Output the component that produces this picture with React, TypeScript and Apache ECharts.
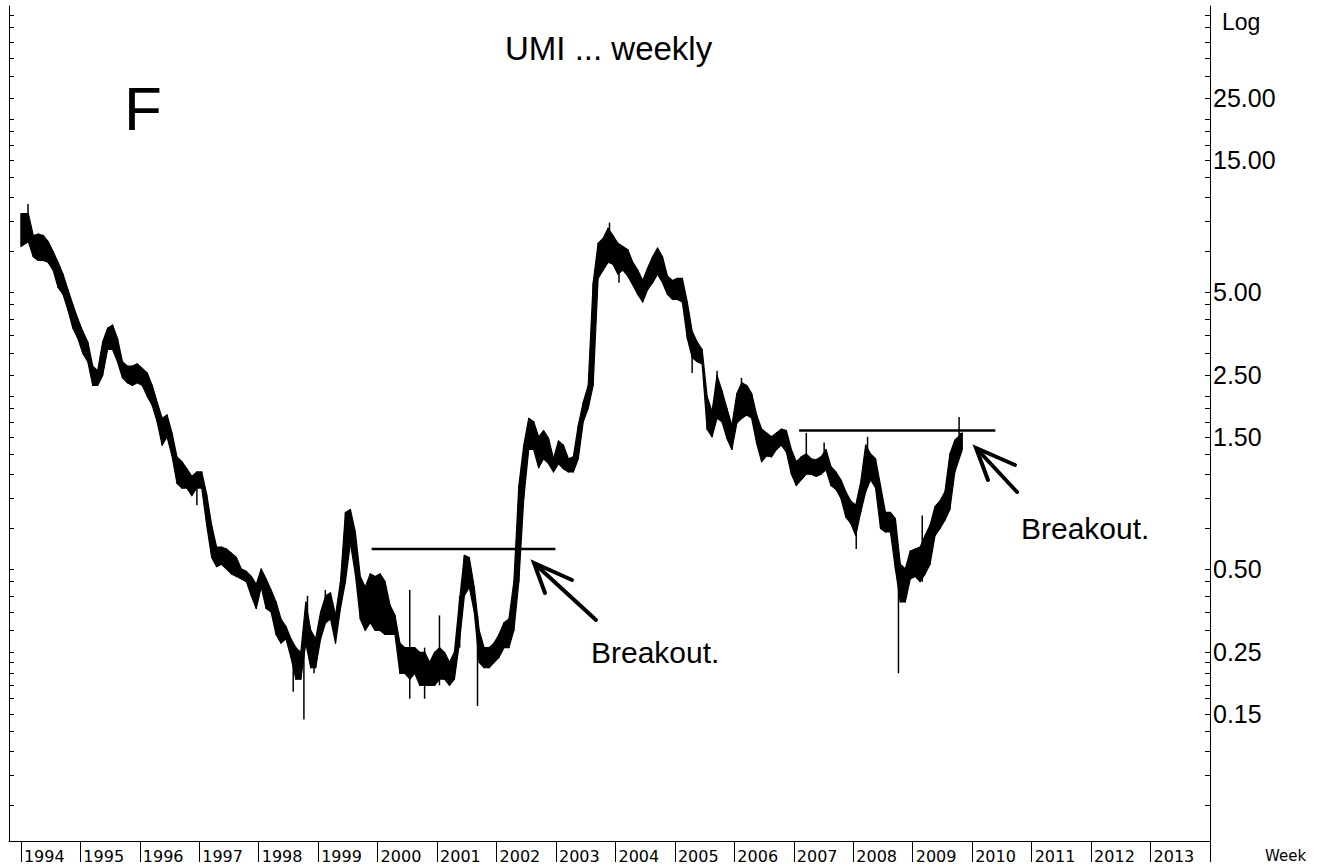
import React, { useEffect, useRef } from 'react';
import * as echarts from 'echarts';

// ---------- data ----------
const START_YEAR = 1994;
const MONTH = 1 / 12;

// monthly high / low of the weekly bars, Jan 1994 .. Oct 2009
const monthlyHigh = [
  // 1994
  9.6, 9.6, 8.0, 8.1, 8.0, 7.6, 7.0, 6.4, 5.8, 5.1, 4.5, 4.0,
  // 1995
  3.6, 3.3, 2.7, 2.6, 3.3, 3.7, 3.8, 3.4, 2.8, 2.7, 2.7, 2.75,
  // 1996
  2.65, 2.55, 2.3, 2.0, 1.75, 1.8, 1.55, 1.27, 1.22, 1.15, 1.08, 1.12,
  // 1997
  1.12, 0.93, 0.72, 0.6, 0.6, 0.59, 0.57, 0.55, 0.5, 0.49, 0.47, 0.44,
  // 1998
  0.5, 0.46, 0.42, 0.38, 0.33, 0.31, 0.28, 0.26, 0.25, 0.38, 0.3, 0.28,
  // 1999
  0.35, 0.4, 0.41, 0.34, 0.45, 0.8, 0.82, 0.68, 0.47, 0.43, 0.48, 0.47,
  // 2000
  0.48, 0.45, 0.37, 0.34, 0.27, 0.26, 0.26, 0.26, 0.25, 0.25, 0.23, 0.25,
  // 2001
  0.26, 0.25, 0.23, 0.25, 0.38, 0.56, 0.55, 0.43, 0.3, 0.26, 0.26, 0.27,
  // 2002
  0.29, 0.32, 0.33, 0.45, 1.0, 1.4, 1.75, 1.7, 1.5, 1.58, 1.48, 1.25,
  // 2003
  1.45, 1.4, 1.25, 1.27, 1.65, 2.0, 2.3, 5.4, 7.5, 7.8, 8.5, 8.0,
  // 2004
  7.5, 7.3, 7.1, 6.4, 6.0, 5.5, 6.1, 6.7, 7.2, 6.7, 5.7, 5.5,
  // 2005
  5.6, 5.6, 4.6, 3.6, 3.3, 3.1, 2.1, 1.85, 2.5, 2.2, 1.9, 1.65,
  // 2006
  2.15, 2.35, 2.3, 2.15, 1.8, 1.6, 1.55, 1.5, 1.55, 1.6, 1.58, 1.35,
  // 2007
  1.22, 1.27, 1.3, 1.25, 1.24, 1.27, 1.35, 1.17, 1.12, 1.05, 0.95, 0.88,
  // 2008
  0.85, 1.03, 1.4, 1.3, 1.25, 1.0, 0.8, 0.8, 0.76, 0.52, 0.5, 0.58,
  // 2009
  0.59, 0.6, 0.66, 0.72, 0.84, 0.88, 0.95, 1.3, 1.46, 1.55,
];

const monthlyLow = [
  // 1994
  7.3, 7.6, 6.7, 6.5, 6.5, 6.4, 6.0, 5.2, 4.9, 4.3, 3.7, 3.4,
  // 1995
  3.0, 2.8, 2.3, 2.3, 2.5, 3.1, 3.1, 2.8, 2.45, 2.35, 2.3, 2.35,
  // 1996
  2.3, 2.1, 1.95, 1.7, 1.4, 1.5, 1.28, 1.02, 0.98, 0.98, 0.92, 0.98,
  // 1997
  0.98, 0.72, 0.55, 0.51, 0.52, 0.5, 0.48, 0.47, 0.46, 0.45, 0.4, 0.36,
  // 1998
  0.43, 0.36, 0.35, 0.29, 0.27, 0.28, 0.24, 0.2, 0.2, 0.27, 0.22, 0.22,
  // 1999
  0.28, 0.32, 0.33, 0.27, 0.36, 0.45, 0.62, 0.48, 0.33, 0.3, 0.32, 0.3,
  // 2000
  0.3, 0.29, 0.29, 0.29, 0.21, 0.21, 0.2, 0.21, 0.19, 0.19, 0.19, 0.19,
  // 2001
  0.2, 0.2, 0.19, 0.2, 0.27, 0.4, 0.43, 0.35, 0.23, 0.22, 0.22, 0.23,
  // 2002
  0.24, 0.26, 0.26, 0.3, 0.45, 0.9, 1.35, 1.35, 1.16, 1.25, 1.2, 1.12,
  // 2003
  1.2, 1.15, 1.12, 1.12, 1.25, 1.7, 1.9, 2.3, 5.6, 6.0, 6.4, 6.3,
  // 2004
  5.8, 6.0, 5.7, 5.3, 4.9, 4.6, 5.1, 5.4, 5.8, 5.4, 4.9, 4.7,
  // 2005
  4.7, 4.6, 3.4, 2.9, 2.8, 2.75, 1.6, 1.5, 1.75, 1.7, 1.48, 1.35,
  // 2006
  1.68, 1.75, 1.8, 1.75, 1.42, 1.22, 1.28, 1.27, 1.35, 1.4, 1.32, 1.1,
  // 2007
  1.0, 1.05, 1.1, 1.1, 1.08, 1.1, 1.14, 1.0, 0.97, 0.9, 0.77, 0.73,
  // 2008
  0.66, 0.8, 0.95, 1.05, 0.98, 0.7, 0.68, 0.68, 0.5, 0.38, 0.38, 0.46,
  // 2009
  0.47, 0.45, 0.48, 0.52, 0.66, 0.7, 0.75, 0.82, 1.12, 1.35,
];

// single-week spikes (time in years, high, low)
const spikeTime = [
  1994.12, 1996.96, 1998.58, 1998.76, 1998.82, 1998.93, 1999.12, 2000.54, 2000.79,
  2001.04, 2001.38, 2001.68, 2003.9, 2004.06, 2005.29, 2005.71, 2006.12, 2007.21,
  2007.51, 2008.05, 2008.24, 2008.76, 2009.16, 2009.78,
];
const spikeHigh = [
  10.4, 1.0, 0.26, 0.25, 0.4, 0.26, 0.42, 0.42, 0.26,
  0.34, 0.4, 0.34, 8.9, 6.0, 3.3, 2.6, 2.45, 1.55,
  1.43, 0.75, 1.5, 0.5, 0.78, 1.77,
];
const spikeLow = [
  8.5, 0.85, 0.18, 0.143, 0.33, 0.21, 0.32, 0.17, 0.17,
  0.19, 0.26, 0.16, 7.5, 5.4, 2.55, 2.0, 2.0, 1.2,
  1.15, 0.59, 1.1, 0.21, 0.45, 1.45,
];

// breakout (resistance) lines: [start year, end year, price]
const breakout1 = [1999.9, 2002.99, 0.59];
const breakout2 = [2007.09, 2010.39, 1.58];

// axes
const yearTicks = [
  1994, 1995, 1996, 1997, 1998, 1999, 2000, 2001, 2002, 2003, 2004,
  2005, 2006, 2007, 2008, 2009, 2010, 2011, 2012, 2013, 2014,
];
const yearLabels = yearTicks.slice(0, -1);
const priceLabels = [25, 15, 5, 2.5, 1.5, 0.5, 0.25, 0.15];
const priceTicks = [
  50, 45, 40, 35, 30, 25, 21, 19, 17, 15, 13, 11, 9, 7, 5, 4.5, 4, 3.5, 3, 2.5,
  2.1, 1.9, 1.7, 1.5, 1.3, 1.1, 0.9, 0.7, 0.5, 0.45, 0.4, 0.35, 0.3, 0.25,
  0.23, 0.21, 0.19, 0.17, 0.15, 0.13, 0.11, 0.09, 0.07,
];
const X_MIN = 1993.8;
const X_MAX = 2014;
const Y_MIN = 0.0521;
const Y_MAX = 53.9;

// ---------- chart ----------
const lg = Math.log10;

function buildOption(): any {
  const barData = monthlyHigh.map((h, i) => [START_YEAR + i * MONTH, lg(h), lg(monthlyLow[i])]);
  const spikeData = spikeTime.map((t, i) => [t, lg(spikeHigh[i]), lg(spikeLow[i])]);

  const yCommon = {
    type: 'value',
    min: lg(Y_MIN),
    max: lg(Y_MAX),
    splitLine: { show: false },
    axisLine: { show: true, lineStyle: { color: '#000', width: 1 } },
    axisTick: {
      show: true,
      inside: true,
      length: 5,
      customValues: priceTicks.map(lg),
      lineStyle: { color: '#000', width: 1 },
    },
  };

  const lineSeries = (b: number[]) => ({
    type: 'line',
    xAxisIndex: 0,
    yAxisIndex: 0,
    symbol: 'none',
    silent: true,
    lineStyle: { color: '#000', width: 2.5 },
    data: [
      [b[0], lg(b[2])],
      [b[1], lg(b[2])],
    ],
    z: 5,
  });

  const textStyle = (text: string, size: number, family = 'Liberation Sans, Arial, sans-serif') => ({
    text,
    fontSize: size,
    fontFamily: family,
    fill: '#000',
    align: 'left',
    verticalAlign: 'middle',
  });

  return {
    animation: false,
    backgroundColor: '#fff',
    grid: { left: 9, right: 117, top: 6, bottom: 27, containLabel: false },
    xAxis: {
      type: 'value',
      min: X_MIN,
      max: X_MAX,
      splitLine: { show: false },
      axisLine: { show: true, onZero: false, lineStyle: { color: '#000', width: 1 } },
      axisTick: {
        show: true,
        length: 21,
        customValues: yearTicks,
        lineStyle: { color: '#000', width: 1 },
      },
      axisLabel: {
        customValues: yearLabels,
        formatter: (v: number) => String(Math.round(v)),
        align: 'left',
        verticalAlign: 'top',
        margin: 7,
        padding: [0, 0, 0, 3],
        fontFamily: 'DejaVu Sans, Verdana, sans-serif',
        fontSize: 16,
        color: '#000',
      },
    },
    yAxis: [
      {
        ...yCommon,
        position: 'right',
        axisLabel: {
          customValues: priceLabels.map(lg),
          formatter: (v: number) => Math.pow(10, v).toFixed(2),
          margin: 3,
          fontFamily: 'Liberation Sans Narrow, Liberation Sans, Arial, sans-serif',
          fontSize: 25,
          color: '#000',
        },
      },
      {
        ...yCommon,
        position: 'left',
        axisLabel: { show: false },
      },
    ],
    series: [
      {
        type: 'custom',
        name: 'UMI',
        xAxisIndex: 0,
        yAxisIndex: 0,
        encode: { x: 0, y: [1, 2] },
        data: barData,
        renderItem: (params: any, api: any) => {
          const i = params.dataIndexInside;
          const n = params.dataInsideLength;
          const t0 = api.value(0, i);
          const x0 = i === 0 ? t0 : t0 + MONTH / 2;
          if (i + 1 >= n) {
            const a = api.coord([x0, api.value(1, i)]);
            const b = api.coord([t0 + MONTH, api.value(2, i)]);
            return {
              type: 'rect',
              shape: { x: a[0], y: a[1], width: Math.max(b[0] - a[0], 1), height: Math.max(b[1] - a[1], 1.5) },
              style: { fill: '#000' },
            };
          }
          const t1 = api.value(0, i + 1);
          const x1 = i + 2 >= n ? t1 + MONTH : t1 + MONTH / 2;
          const pts = [
            api.coord([x0, api.value(1, i)]),
            api.coord([x1, api.value(1, i + 1)]),
            api.coord([x1, api.value(2, i + 1)]),
            api.coord([x0, api.value(2, i)]),
          ];
          return {
            type: 'polygon',
            shape: { points: pts },
            style: { fill: '#000', stroke: '#000', lineWidth: 1.2, lineJoin: 'round' },
          };
        },
        z: 3,
      },
      {
        type: 'custom',
        name: 'spikes',
        xAxisIndex: 0,
        yAxisIndex: 0,
        encode: { x: 0, y: [1, 2] },
        data: spikeData,
        renderItem: (_p: any, api: any) => {
          const t = api.value(0);
          const a = api.coord([t, api.value(1)]);
          const b = api.coord([t, api.value(2)]);
          return {
            type: 'line',
            shape: { x1: a[0], y1: a[1], x2: b[0], y2: b[1] },
            style: { stroke: '#000', lineWidth: 1.5 },
          };
        },
        z: 4,
      },
      lineSeries(breakout1),
      lineSeries(breakout2),
    ],
    graphic: [
      { type: 'text', x: 505, y: 48, style: textStyle('UMI ... weekly', 33) },
      { type: 'text', x: 124, y: 108, style: textStyle('F', 62) },
      { type: 'text', x: 591, y: 652, style: textStyle('Breakout.', 30) },
      { type: 'text', x: 1021, y: 528, style: textStyle('Breakout.', 30) },
      { type: 'text', x: 1222, y: 22, style: textStyle('Log', 23) },
      { type: 'text', x: 1265, y: 856, style: textStyle('Week', 15, 'DejaVu Sans, Verdana, sans-serif') },
      // arrow 1
      {
        type: 'line',
        shape: { x1: 535, y1: 564, x2: 596, y2: 620 },
        style: { stroke: '#000', lineWidth: 4, lineCap: 'round' },
      },
      {
        type: 'polyline',
        shape: { points: [[572, 580], [534, 563], [545, 593]] },
        style: { stroke: '#000', fill: 'none', lineWidth: 4, lineCap: 'round', lineJoin: 'miter' },
      },
      // arrow 2
      {
        type: 'line',
        shape: { x1: 977, y1: 449, x2: 1017, y2: 492 },
        style: { stroke: '#000', lineWidth: 4, lineCap: 'round' },
      },
      {
        type: 'polyline',
        shape: { points: [[1015, 465], [976, 448], [988, 480]] },
        style: { stroke: '#000', fill: 'none', lineWidth: 4, lineCap: 'round', lineJoin: 'miter' },
      },
    ],
  };
}

export default function App() {
  const ref = useRef<HTMLDivElement>(null);
  useEffect(() => {
    if (!ref.current) return;
    const chart = echarts.init(ref.current, null, { renderer: 'svg' });
    chart.setOption(buildOption());
    return () => {
      chart.dispose();
    };
  }, []);
  return (
    <div
      ref={ref}
      style={{ position: 'fixed', left: 0, top: 0, width: 1327, height: 868, background: '#fff' }}
    />
  );
}
